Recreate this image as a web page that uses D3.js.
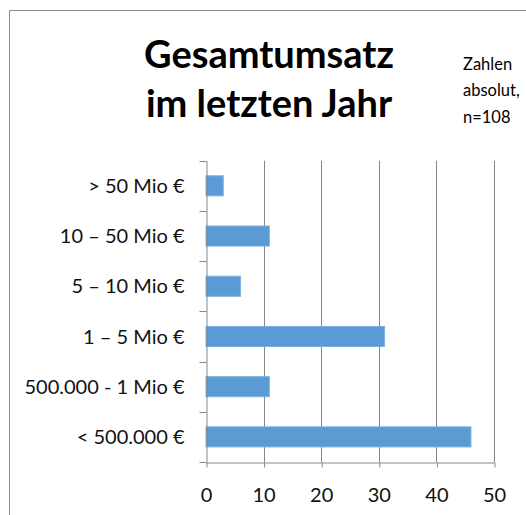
<!DOCTYPE html>
<meta charset="utf-8">
<style>
body { margin: 0; background: #fff; }
text { font-family: Lato, "Open Sans", sans-serif; fill: #000; }
.title { font-size: 38px; font-weight: bold; }
.note { font-size: 16.5px; }
.axis text { font-size: 20px; fill: #111; }
.axis path, .axis line { stroke: #868686; }
.grid line { stroke: #868686; }
.bar { fill: #5b9bd5; stroke: #7fb2e0; stroke-width: 1; }
</style>
<body>
<script src="https://cdn.jsdelivr.net/npm/d3@7"></script>
<script>
var categories = ["> 50 Mio €", "10 – 50 Mio €", "5 – 10 Mio €", "1 – 5 Mio €", "500.000 - 1 Mio €", "< 500.000 €"];
var values = [3, 11, 6, 31, 11, 46];
var xTicks = [0, 10, 20, 30, 40, 50];
var titleLines = ["Gesamtumsatz", "im letzten Jahr"];
var noteLines = ["Zahlen", "absolut,", "n=108"];

var width = 526, height = 515;
var plot = {left: 206, right: 494, top: 160.7, bottom: 462};

var svg = d3.select("body").append("svg")
    .attr("width", width)
    .attr("height", height);

// frame
svg.append("path")
    .attr("d", "M9.5," + height + "V10.5H" + width)
    .attr("fill", "none")
    .attr("stroke", "#8c8c8c");

var x = d3.scaleLinear().domain([0, 50]).range([plot.left, plot.right]);
var y = d3.scaleBand().domain(categories)
    .range([plot.top, plot.bottom])
    .paddingInner(0.6).paddingOuter(0.3);

// vertical gridlines
svg.append("g").attr("class", "grid")
  .selectAll("line")
    .data(xTicks.slice(1))
  .enter().append("line")
    .attr("x1", function(d) { return Math.round(x(d)) + 0.5; })
    .attr("x2", function(d) { return Math.round(x(d)) + 0.5; })
    .attr("y1", plot.top)
    .attr("y2", plot.bottom);

svg.selectAll(".bar")
    .data(values)
  .enter().append("rect")
    .attr("class", "bar")
    .attr("x", x(0))
    .attr("y", function(d, i) { return y(categories[i]); })
    .attr("height", y.bandwidth())
    .attr("width", function(d) { return x(d) - x(0); });

// bottom axis
var xAxis = svg.append("g")
    .attr("class", "axis")
    .attr("transform", "translate(0," + (Math.round(plot.bottom) + 0.5) + ")")
    .call(d3.axisBottom(x).tickValues(xTicks).tickSize(5).tickSizeOuter(0));
xAxis.selectAll(".tick line").attr("transform", "translate(0.5,0)");
xAxis.selectAll("text").attr("dy", null).attr("y", 39);

// left axis: labels at band centres, ticks at band boundaries
var yAxis = svg.append("g")
    .attr("class", "axis")
    .attr("transform", "translate(" + (Math.round(plot.left) + 0.5) + ",0)")
    .call(d3.axisLeft(y).tickSize(0).tickSizeOuter(0).tickPadding(22));
yAxis.selectAll("text").attr("dy", "0.36em");

var bounds = categories.map(function(c) { return y(c) - (y.step() - y.bandwidth()) / 2; });
yAxis.selectAll(".bound")
    .data(bounds)
  .enter().append("line")
    .attr("class", "bound")
    .attr("x1", -7).attr("x2", 0)
    .attr("y1", function(d) { return Math.round(d) + 0.5; })
    .attr("y2", function(d) { return Math.round(d) + 0.5; });
yAxis.append("line")
    .attr("x1", -7).attr("x2", 0)
    .attr("y1", Math.round(plot.bottom) + 0.5)
    .attr("y2", Math.round(plot.bottom) + 0.5);

// title
svg.append("text")
    .attr("class", "title")
    .attr("text-anchor", "middle")
  .selectAll("tspan")
    .data(titleLines)
  .enter().append("tspan")
    .attr("x", 269)
    .attr("y", function(d, i) { return 68 + i * 49; })
    .text(function(d) { return d; });

svg.append("text")
    .attr("class", "note")
  .selectAll("tspan")
    .data(noteLines)
  .enter().append("tspan")
    .attr("x", 463)
    .attr("y", function(d, i) { return 70 + i * 26.3; })
    .text(function(d) { return d; });
</script>
</body>
